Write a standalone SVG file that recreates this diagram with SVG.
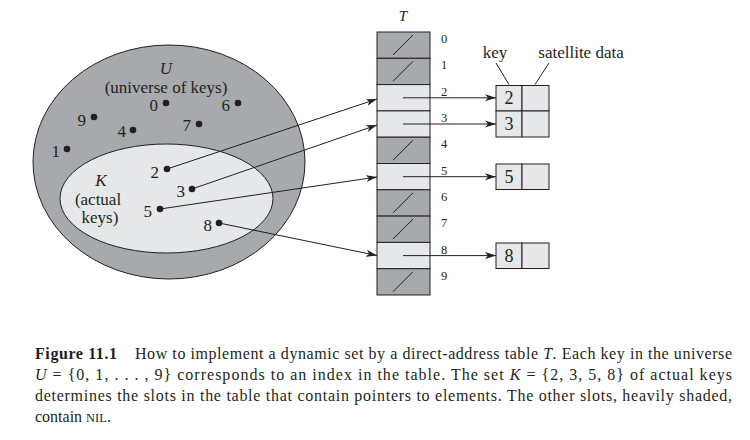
<svg xmlns="http://www.w3.org/2000/svg" width="750" height="440" viewBox="0 0 750 440">
<style>
  text { font-family: "Liberation Serif", "DejaVu Serif", serif; fill: #231f20; }
  .lbl { font-size: 17px; }
  .it { font-style: italic; }
  .idx { font-size: 12.5px; }
  .key { font-size: 18px; text-anchor: middle; }
  .cap { font-size: 16px; }
  .dark { fill: #a7a9ac; stroke: #231f20; stroke-width: 1; }
  .light { fill: #e6e7e8; stroke: #231f20; stroke-width: 1; }
  .ln { stroke: #231f20; stroke-width: 1; fill: none; }
  .dot { fill: #231f20; }
</style>
<defs>
  <marker id="ah" markerUnits="userSpaceOnUse" markerWidth="12" markerHeight="8" refX="11" refY="4" orient="auto">
    <path d="M0,0.5 L11,4 L0,7.5 L3,4 Z" fill="#231f20"/>
  </marker>
</defs>

<g id="universe">
  <ellipse class="dark" cx="169" cy="162" rx="136" ry="117"/>
  <text class="lbl it" x="166" y="74" text-anchor="middle">U</text>
  <text class="lbl" x="166" y="93" text-anchor="middle">(universe of keys)</text>
  <circle class="dot" cx="166" cy="103" r="3.3"/><text class="lbl" x="158" y="111" text-anchor="end">0</text>
  <circle class="dot" cx="238" cy="103" r="3.3"/><text class="lbl" x="230" y="111" text-anchor="end">6</text>
  <circle class="dot" cx="94" cy="117" r="3.3"/><text class="lbl" x="86" y="126" text-anchor="end">9</text>
  <circle class="dot" cx="133" cy="130" r="3.3"/><text class="lbl" x="126" y="137" text-anchor="end">4</text>
  <circle class="dot" cx="199" cy="124" r="3.3"/><text class="lbl" x="191" y="131" text-anchor="end">7</text>
  <circle class="dot" cx="67" cy="149" r="3.3"/><text class="lbl" x="60" y="157" text-anchor="end">1</text>
</g>

<g id="actual-keys">
  <ellipse class="light" cx="166.5" cy="198.5" rx="106.5" ry="54.5"/>
  <text class="lbl it" x="101" y="186" text-anchor="middle">K</text>
  <text class="lbl" x="98" y="205" text-anchor="middle">(actual</text>
  <text class="lbl" x="100" y="223" text-anchor="middle">keys)</text>
  <circle class="dot" cx="167" cy="169" r="3.3"/><text class="lbl" x="159" y="178" text-anchor="end">2</text>
  <circle class="dot" cx="192" cy="189" r="3.3"/><text class="lbl" x="185" y="197" text-anchor="end">3</text>
  <circle class="dot" cx="160" cy="209" r="3.3"/><text class="lbl" x="152" y="217" text-anchor="end">5</text>
  <circle class="dot" cx="219" cy="223" r="3.3"/><text class="lbl" x="212" y="231" text-anchor="end">8</text>
</g>

<g id="table-T">
  <text class="it" x="403" y="21" text-anchor="middle" font-size="15">T</text>
  <rect class="dark" x="377" y="32" width="53" height="26.3"/>
  <rect class="dark" x="377" y="58.3" width="53" height="26.3"/>
  <rect class="light" x="377" y="84.6" width="53" height="26.3"/>
  <rect class="light" x="377" y="110.9" width="53" height="26.3"/>
  <rect class="dark" x="377" y="137.2" width="53" height="26.3"/>
  <rect class="light" x="377" y="163.5" width="53" height="26.3"/>
  <rect class="dark" x="377" y="189.8" width="53" height="26.3"/>
  <rect class="dark" x="377" y="216.1" width="53" height="26.3"/>
  <rect class="light" x="377" y="242.4" width="53" height="26.3"/>
  <rect class="dark" x="377" y="268.7" width="53" height="26.3"/>
  <g class="ln">
    <line x1="393" y1="55" x2="413" y2="35"/>
    <line x1="393" y1="81.3" x2="413" y2="61.3"/>
    <line x1="393" y1="160.2" x2="413" y2="140.2"/>
    <line x1="393" y1="212.8" x2="413" y2="192.8"/>
    <line x1="393" y1="239.1" x2="413" y2="219.1"/>
    <line x1="393" y1="291.7" x2="413" y2="271.7"/>
  </g>
  <text class="idx" x="441" y="43">0</text>
  <text class="idx" x="441" y="69">1</text>
  <text class="idx" x="441" y="96">2</text>
  <text class="idx" x="441" y="122">3</text>
  <text class="idx" x="441" y="148">4</text>
  <text class="idx" x="441" y="175">5</text>
  <text class="idx" x="441" y="201">6</text>
  <text class="idx" x="441" y="227">7</text>
  <text class="idx" x="441" y="254">8</text>
  <text class="idx" x="441" y="280">9</text>
</g>

<g id="element-2">
  <rect class="light" x="496" y="85.5" width="26" height="25.5"/>
  <rect class="light" x="522" y="85.5" width="27" height="25.5"/>
  <text class="key" x="509" y="104">2</text>
</g>
<g id="element-3">
  <rect class="light" x="496" y="111" width="26" height="26"/>
  <rect class="light" x="522" y="111" width="27" height="26"/>
  <text class="key" x="509" y="130">3</text>
</g>
<g id="element-5">
  <rect class="light" x="496" y="164" width="26" height="25.5"/>
  <rect class="light" x="522" y="164" width="27" height="25.5"/>
  <text class="key" x="509" y="183">5</text>
</g>
<g id="element-8">
  <rect class="light" x="496" y="243" width="26" height="25.5"/>
  <rect class="light" x="522" y="243" width="27" height="25.5"/>
  <text class="key" x="509" y="262">8</text>
</g>

<g id="legend">
  <text class="lbl" x="495" y="58" text-anchor="middle">key</text>
  <text class="lbl" x="581" y="58" text-anchor="middle">satellite data</text>
  <line class="ln" x1="496" y1="63" x2="509" y2="84.5"/>
  <line class="ln" x1="549" y1="63" x2="535" y2="84.5"/>
</g>

<g id="connectors" class="ln">
  <line x1="167" y1="169" x2="377" y2="99" marker-end="url(#ah)"/>
  <line x1="192" y1="189" x2="377" y2="125" marker-end="url(#ah)"/>
  <line x1="160" y1="209" x2="377" y2="177" marker-end="url(#ah)"/>
  <line x1="219" y1="223" x2="377" y2="255.5" marker-end="url(#ah)"/>
  <line x1="403" y1="97.8" x2="496" y2="97.8" marker-end="url(#ah)"/>
  <line x1="403" y1="124" x2="496" y2="124" marker-end="url(#ah)"/>
  <line x1="403" y1="176.7" x2="496" y2="176.7" marker-end="url(#ah)"/>
  <line x1="403" y1="255.6" x2="496" y2="255.6" marker-end="url(#ah)"/>
</g>

<g id="caption">
  <text class="cap" x="35" y="359" font-weight="bold" textLength="82" lengthAdjust="spacing">Figure 11.1</text>
  <text class="cap" x="135" y="359" textLength="597" lengthAdjust="spacing">How to implement a dynamic set by a direct-address table <tspan class="it">T</tspan>. Each key in the universe</text>
  <text class="cap" x="35" y="380" textLength="697" lengthAdjust="spacing"><tspan class="it">U</tspan>  =  {0, 1, . . . , 9} corresponds to an index in the table.  The set <tspan class="it">K</tspan>  =  {2, 3, 5, 8} of actual keys</text>
  <text class="cap" x="35" y="401" textLength="697" lengthAdjust="spacing">determines the slots in the table that contain pointers to elements.  The other slots, heavily shaded,</text>
  <text class="cap" x="35" y="422">contain <tspan font-size="12.5">NIL</tspan>.</text>
</g>
</svg>
